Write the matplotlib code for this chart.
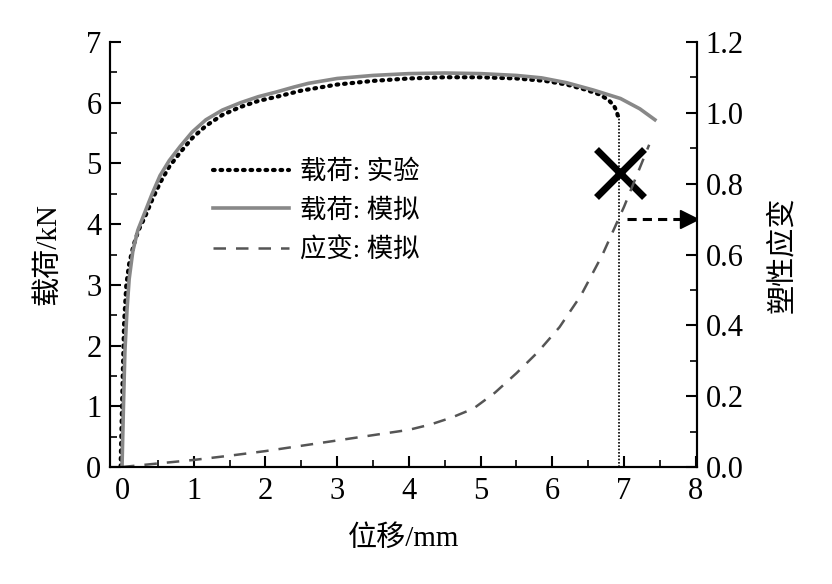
import matplotlib
matplotlib.use('Agg')
import matplotlib.pyplot as plt
from matplotlib.ticker import MultipleLocator

plt.rcParams['font.family'] = ['Liberation Serif', 'Noto Sans CJK SC']

# 载荷: 实验 (displacement mm, load kN)
exp_x = [-0.02, -0.01, 0.01, 0.03, 0.06, 0.1, 0.16, 0.23, 0.32, 0.42, 0.53, 0.66, 0.81,
         0.98, 1.17, 1.4, 1.65, 1.9, 2.16, 2.5, 3.0, 3.5, 4.0, 4.5, 5.0, 5.5, 5.9, 6.2,
         6.45, 6.65, 6.78, 6.86, 6.9, 6.92]
exp_y = [0.0, 0.5, 1.5, 2.4, 3.0, 3.35, 3.65, 3.9, 4.12, 4.4, 4.68, 4.95, 5.18,
         5.42, 5.62, 5.8, 5.93, 6.03, 6.1, 6.2, 6.3, 6.36, 6.4, 6.42, 6.42, 6.4, 6.36,
         6.3, 6.22, 6.14, 6.05, 5.95, 5.85, 5.75]

# 载荷: 模拟
sim_x = [0.0, 0.02, 0.04, 0.07, 0.1, 0.15, 0.22, 0.32, 0.42, 0.53, 0.66, 0.81, 0.98,
         1.17, 1.4, 1.65, 1.9, 2.16, 2.4, 2.6, 3.0, 3.5, 4.0, 4.5, 5.0, 5.5, 5.85, 6.2,
         6.57, 6.95, 7.22, 7.43]
sim_y = [0.0, 1.0, 1.9, 2.6, 3.1, 3.55, 3.9, 4.2, 4.5, 4.8, 5.05, 5.28, 5.52,
         5.72, 5.88, 6.0, 6.1, 6.18, 6.26, 6.32, 6.4, 6.45, 6.48, 6.49, 6.48, 6.45,
         6.41, 6.33, 6.21, 6.07, 5.9, 5.72]

# 应变: 模拟 (right axis)
strain_x = [0.0, 0.5, 1.0, 1.5, 2.0, 2.5, 3.0, 3.5, 4.0, 4.3, 4.6, 4.9, 5.2, 5.5,
            5.8, 6.1, 6.4, 6.7, 7.0, 7.35]
strain_y = [0.0, 0.01, 0.02, 0.032, 0.045, 0.06, 0.075, 0.09, 0.105, 0.12, 0.14, 0.165,
            0.21, 0.265, 0.325, 0.395, 0.485, 0.6, 0.735, 0.91]

fail_x = 6.93        # 断裂位移
fail_load = 5.8
cross_xy = (6.95, 4.84)
strain_at_fail = 0.7

fig = plt.figure(figsize=(8.32, 5.84), dpi=100)
ax = fig.add_axes([0.132, 0.2003, 0.706, 0.7277])
ax2 = ax.twinx()

l1, = ax.plot(exp_x, exp_y, color='black', lw=3, linestyle=(0, (0.4, 1.4)),
              dash_capstyle='round', label='载荷: 实验')
l2, = ax.plot(sim_x, sim_y, color='#888888', lw=2.6, label='载荷: 模拟')
l3, = ax2.plot(strain_x, strain_y, color='#555555', lw=1.8, linestyle=(0, (5, 4)),
               label='应变: 模拟')

ax.plot([fail_x, fail_x], [0, fail_load], color='black', lw=1.2, linestyle=(0, (1, 1)))
ax.plot([cross_xy[0]], [cross_xy[1]], marker='x', color='black', markersize=34,
        markeredgewidth=5)
ax2.plot([7.04, 7.78], [strain_at_fail, strain_at_fail], color='black', lw=2.2,
         linestyle=(0, (3, 2)))
ax2.plot([7.9], [strain_at_fail], marker='>', color='black', markersize=13)

ax.set_xlim(-0.17, 8.02)
ax.set_ylim(0, 7)
ax2.set_ylim(0, 1.2)

ax.xaxis.set_major_locator(MultipleLocator(1))
ax.xaxis.set_minor_locator(MultipleLocator(0.5))
ax.yaxis.set_major_locator(MultipleLocator(1))
ax.yaxis.set_minor_locator(MultipleLocator(0.5))
ax2.yaxis.set_major_locator(MultipleLocator(0.2))
ax2.yaxis.set_minor_locator(MultipleLocator(0.1))
ax2.yaxis.set_major_formatter(plt.FormatStrFormatter('%.1f'))

for a in (ax, ax2):
    a.spines['top'].set_visible(False)
    for s in a.spines.values():
        s.set_linewidth(1.5)
    a.tick_params(which='major', direction='in', length=8, width=1.5, labelsize=22)
    a.tick_params(which='minor', direction='in', length=5, width=1.2)
ax.tick_params(axis='x', pad=7)
ax.tick_params(axis='y', pad=6)
ax2.tick_params(axis='y', pad=6)

ax.set_xlabel('位移/mm', fontsize=21, labelpad=14)
ax.set_ylabel('载荷/kN', fontsize=21, labelpad=18)
ax2.set_ylabel('塑性应变', fontsize=21, rotation=90, labelpad=18)

ax.legend(handles=[l1, l2, l3], loc='upper left', bbox_to_anchor=(0.135, 0.78),
          frameon=False, fontsize=19, handlelength=2.9, handletextpad=0.4,
          labelspacing=0.55)

fig.savefig('out.png', dpi=100)
